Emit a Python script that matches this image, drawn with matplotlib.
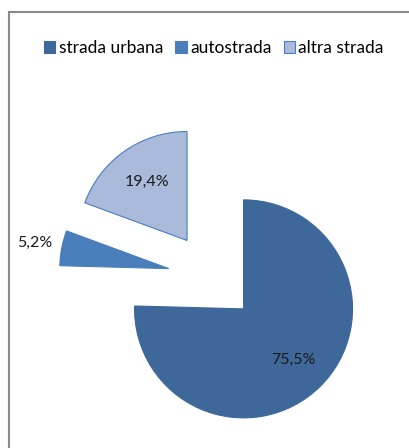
import matplotlib
matplotlib.use('Agg')
import matplotlib.pyplot as plt
from matplotlib.patches import Rectangle
import numpy as np

labels = ['strada urbana', 'autostrada', 'altra strada']
values = [75.5, 5.2, 19.4]
colors = ['#3e6899', '#4a7ebb', '#a9badb']
edges = ['#3e6899', '#4a7ebb', '#4a7ebb']

W, H = 410, 448
fig = plt.figure(figsize=(W / 100, H / 100), dpi=100)
plt.rcParams['font.family'] = ['Lato', 'DejaVu Sans']

# chart frame (runs past the right and bottom edge like the original)
fig.patches.append(Rectangle((8.5 / W, -0.05), 1.1, (H - 12.5) / H + 0.05,
                             transform=fig.transFigure, fill=False,
                             ec='#8a8a8a', lw=1.5))

ax = fig.add_axes([0, 0, 1, 1])

r = 109
total = sum(values)
wedges, texts, autotexts = ax.pie(values, colors=colors, radius=r,
                                  center=(212.5, H - 277),
                                  startangle=90, counterclock=False,
                                  explode=[44.5] * 3,
                                  autopct=lambda p: ('%.1f%%' % (p * total / 100)).replace('.', ','),
                                  pctdistance=0.65,
                                  wedgeprops={'linewidth': 0.8},
                                  textprops={'fontsize': 11.5, 'color': '#1a1a1a'},
                                  frame=True)
for w, ec in zip(wedges, edges):
    w.set_edgecolor(ec)
ax.set_xlim(0, W)
ax.set_ylim(0, H)
ax.set_aspect('equal')
ax.axis('off')

# small slice label sits outside the slice
w = wedges[1]
mid = np.deg2rad((w.theta1 + w.theta2) / 2)
cx, cy = w.center
autotexts[1].set_position((cx + 1.25 * r * np.cos(mid), cy + 1.25 * r * np.sin(mid)))

handles = [Rectangle((0, 0), 1, 1, fc=c, ec=e, lw=0.8) for c, e in zip(colors, edges)]
fig.legend(handles, labels, loc='center', bbox_to_anchor=(214 / W, 1 - 48 / H),
           ncol=3, frameon=False, fontsize=12.5, handlelength=0.65, handleheight=0.65,
           handletextpad=0.2, columnspacing=0.7, borderaxespad=0)

fig.savefig('out.png', dpi=100)
